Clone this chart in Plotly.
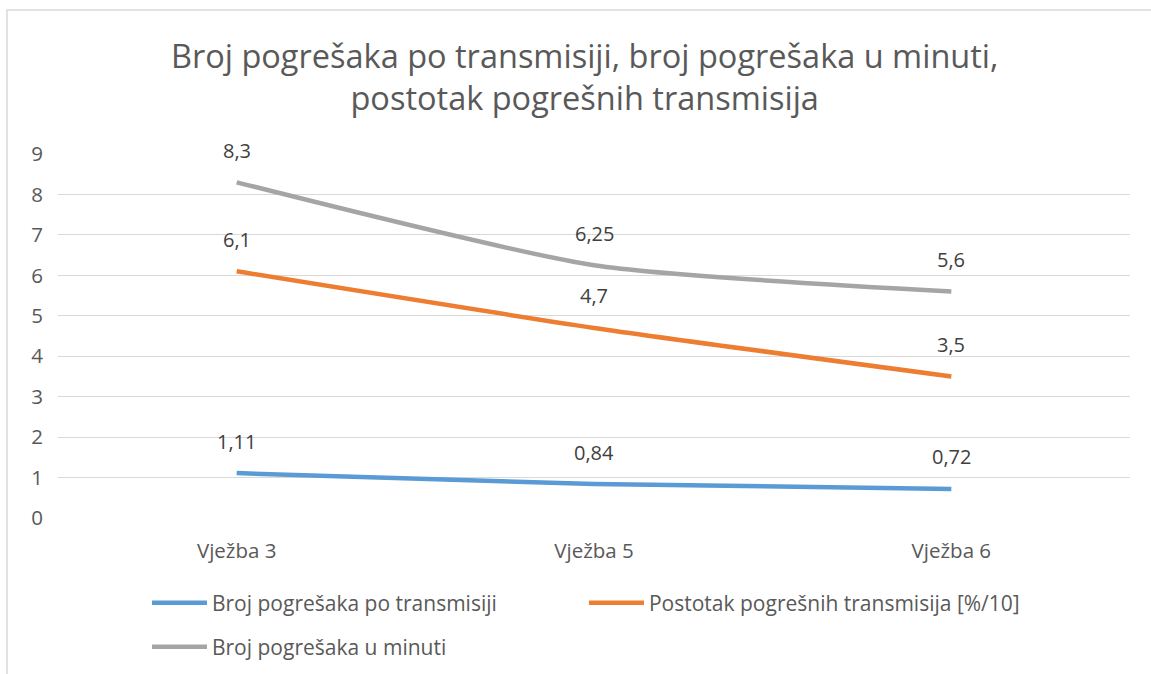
import plotly.graph_objects as go

categories = ["Vježba 3", "Vježba 5", "Vježba 6"]
po_transmisiji = [1.11, 0.84, 0.72]
postotak = [6.1, 4.7, 3.5]
u_minuti = [8.3, 6.25, 5.6]
label_po = ["1,11", "0,84", "0,72"]
label_post = ["6,1", "4,7", "3,5"]
label_min = ["8,3", "6,25", "5,6"]
y_ticks = list(range(0, 10))

FONT = "Open Sans"
TXT = "#595959"

series = [
    ("Broj pogrešaka po transmisiji", po_transmisiji, label_po, "#5B9BD5", "legend"),
    ("Postotak pogrešnih transmisija [%/10]", postotak, label_post, "#ED7D31", "legend"),
    ("Broj pogrešaka u minuti", u_minuti, label_min, "#A5A5A5", "legend2"),
]

fig = go.Figure()
annotations = []
for name, vals, labels, color, leg in series:
    fig.add_trace(go.Scatter(
        x=categories, y=vals, name=name, mode="lines",
        line=dict(color=color, width=4.5, shape="spline", smoothing=0.6),
        legend=leg, cliponaxis=False,
    ))
    for c, v, t in zip(categories, vals, labels):
        annotations.append(dict(x=c, y=v, text=t, showarrow=False, yshift=32,
                                font=dict(family=FONT, size=20, color="#404040")))

fig.update_layout(
    width=1151, height=674,
    margin=dict(l=58, r=21, t=154, b=156, autoexpand=False),
    paper_bgcolor="white", plot_bgcolor="white",
    font=dict(family=FONT, color=TXT),
    title=dict(text="Broj pogrešaka po transmisiji, broj pogrešaka u minuti,<br>postotak pogrešnih transmisija",
               x=0.508, xanchor="center", y=1 - 68 / 674, yanchor="middle",
               font=dict(family=FONT, size=32.5, color=TXT)),
    xaxis=dict(range=[-0.5, 2.5], showgrid=False, showline=False, ticks="",
               automargin=False,
               tickfont=dict(size=20.5, color=TXT), ticklabelstandoff=18),
    yaxis=dict(range=[0, 9], tickvals=y_ticks, showgrid=True, gridcolor="#D9D9D9",
               gridwidth=1.3, zeroline=False, showline=False, automargin=False,
               tickfont=dict(size=20.5, color=TXT), ticklabelstandoff=14),
    legend=dict(orientation="h", x=0.083, xanchor="left",
                yref="container", y=1 - 603 / 674, yanchor="middle",
                font=dict(size=21, color=TXT), itemwidth=55, entrywidth=367,
                bgcolor="rgba(0,0,0,0)"),
    legend2=dict(orientation="h", x=0.083, xanchor="left",
                 yref="container", y=1 - 647 / 674, yanchor="middle",
                 font=dict(size=21, color=TXT), itemwidth=55,
                 bgcolor="rgba(0,0,0,0)"),
    annotations=annotations,
    shapes=[dict(type="rect", xref="paper", yref="paper",
                 x0=-51 / 1072, x1=1110 / 1072, y0=-0.5, y1=(518 - 10) / 364,
                 line=dict(color="#D9D9D9", width=1.5), fillcolor="rgba(0,0,0,0)",
                 layer="below")],
    showlegend=True,
)

fig.write_html("out.html", config={"displayModeBar": False},
               post_script="document.body.style.margin='0';")
